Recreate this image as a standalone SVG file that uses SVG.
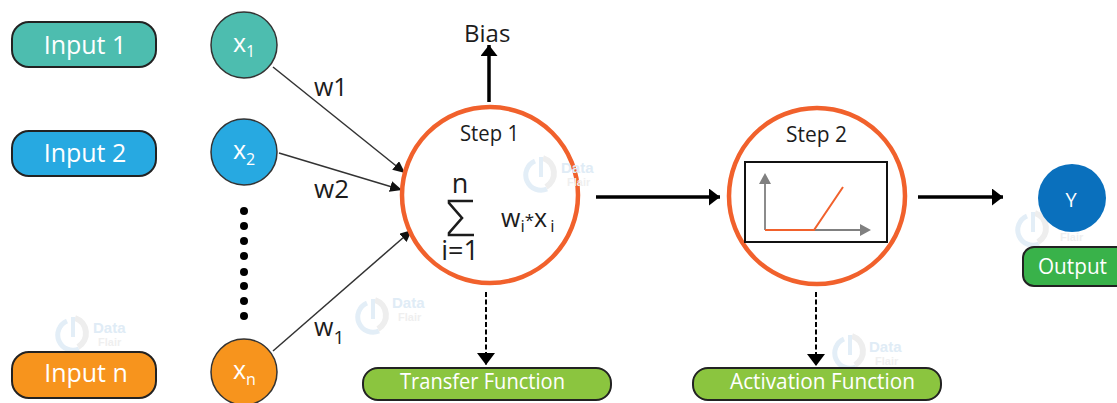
<svg xmlns="http://www.w3.org/2000/svg" width="1117" height="403" viewBox="0 0 1117 403">
<style>
text{font-family:"Open Sans","Noto Sans",sans-serif}
.pill{stroke:#222;stroke-width:2}
.w{fill:#fff}
.k{fill:#1c1c1c}
.ring{fill:#fff;stroke:#f1612c;stroke-width:4.5}
.node{stroke:#333;stroke-width:1.5}
.thin{stroke:#333;stroke-width:1.5;fill:none;marker-end:url(#a1)}
.thick{stroke:#000;stroke-width:3.5;fill:none;marker-end:url(#a2)}
.dash{stroke:#000;stroke-width:2;stroke-dasharray:5 2.5;fill:none;marker-end:url(#a3)}
text.wmt{font-family:"Liberation Sans",sans-serif;fill:#e0ecf6;font-weight:700;font-size:15px}
text.wmf{font-family:"Liberation Sans",sans-serif;fill:#efefef;font-weight:700;font-size:11px}
</style>
<defs>
<marker id="a1" markerUnits="userSpaceOnUse" markerWidth="13" markerHeight="12" refX="12" refY="5.5" orient="auto"><path d="M0 0L12 5.5L0 11Z" fill="#111"/></marker>
<marker id="a2" markerUnits="userSpaceOnUse" markerWidth="13" markerHeight="18" refX="11" refY="8.5" orient="auto"><path d="M0 0L11 8.5L0 17Z" fill="#000"/></marker>
<marker id="a3" markerUnits="userSpaceOnUse" markerWidth="14" markerHeight="20" refX="12" refY="9" orient="auto"><path d="M0 0L12 9L0 18Z" fill="#000"/></marker>
<g id="wm"><path d="M-5 -14A15 15 0 1 0 7 14" fill="none" stroke="#e3eef7" stroke-width="5"/><path d="M3 -17A16 16 0 0 1 6 12" fill="none" stroke="#eeeeee" stroke-width="6"/><path d="M1 -18V2" stroke="#e3eef7" stroke-width="4"/></g>
</defs>

<g id="watermarks">
<use href="#wm" x="372" y="317"/><text class="wmt" x="392" y="308">Data</text><text class="wmf" x="398" y="321">Flair</text>
<use href="#wm" x="72" y="335"/><text class="wmt" x="93" y="333">Data</text><text class="wmf" x="98" y="346">Flair</text>
<use href="#wm" x="849" y="353"/><text class="wmt" x="869" y="352">Data</text><text class="wmf" x="875" y="365">Flair</text>
<use href="#wm" x="1032" y="230"/><text class="wmf" x="1060" y="241">Flair</text>
</g>

<g id="connectors">
<path class="thin" d="M273 67L405 173"/>
<path class="thin" d="M279 153L402 190"/>
<path class="thin" d="M273 351L412 230"/>
<path class="thick" d="M489 102V45"/>
<path class="thick" d="M596 197H720"/>
<path class="thick" d="M918 197H1003"/>
<path class="dash" d="M486 292V365"/>
<path class="dash" d="M816 292V366"/>
</g>

<g id="input1"><rect class="pill" x="12" y="22" width="144" height="45" rx="17" fill="#4dbdaf"/><text class="w" x="85" y="54" font-size="25" text-anchor="middle">Input 1</text></g>
<g id="input2"><rect class="pill" x="12" y="131" width="144" height="45" rx="17" fill="#27a9e1"/><text class="w" x="85" y="162" font-size="25" text-anchor="middle">Input 2</text></g>
<g id="inputn"><rect class="pill" x="12" y="352" width="144" height="46" rx="17" fill="#f7941d"/><text class="w" x="86" y="382" font-size="25" text-anchor="middle">Input n</text></g>

<g id="x1"><circle class="node" cx="244" cy="45" r="33" fill="#4dbdaf"/><text class="w" x="233" y="52" font-size="25">x<tspan font-size="16" dy="5">1</tspan></text></g>
<g id="x2"><circle class="node" cx="244" cy="152" r="33" fill="#27a9e1"/><text class="w" x="233" y="159" font-size="25">x<tspan font-size="16" dy="6">2</tspan></text></g>
<g id="xn"><circle class="node" cx="244" cy="372" r="33" fill="#f7941d"/><text class="w" x="233" y="379" font-size="25">x<tspan font-size="16" dy="6">n</tspan></text></g>

<g id="dots" fill="#000">
<circle cx="244" cy="211" r="4"/><circle cx="244" cy="226" r="4"/><circle cx="244" cy="241" r="4"/><circle cx="244" cy="256" r="4"/><circle cx="244" cy="272" r="4"/><circle cx="244" cy="286" r="4"/><circle cx="244" cy="301" r="4"/><circle cx="244" cy="316" r="4"/>
</g>

<g id="labels" class="k">
<text x="314" y="96" font-size="25">w1</text>
<text x="314" y="198" font-size="26">w2</text>
<text x="314" y="336" font-size="25">w<tspan font-size="19" dy="8">1</tspan></text>
<text x="464" y="42" font-size="24">Bias</text>
</g>

<g id="step1">
<circle class="ring" cx="490" cy="195" r="88"/>
<use href="#wm" x="540" y="175"/><text class="wmt" x="561" y="173">Data</text><text class="wmf" x="567" y="186">Flair</text>
<text class="k" x="460" y="141" font-size="21" textLength="59" lengthAdjust="spacingAndGlyphs">Step 1</text>
<text class="k" x="460" y="193" font-size="27" text-anchor="middle">n</text>
<path d="M473 201H449V203L462 218L449 233V235H474" fill="none" stroke="#1c1c1c" stroke-width="2.6"/>
<text class="k" x="460" y="260" font-size="27" text-anchor="middle">i=1</text>
<text class="k" x="501" y="227" font-size="25">w<tspan font-size="17" dy="5">i</tspan><tspan dy="-6" font-size="17">*</tspan><tspan font-size="25" dy="1">x</tspan><tspan font-size="17" dy="5" dx="3">i</tspan></text>
</g>

<g id="step2">
<circle class="ring" cx="817" cy="196" r="88"/>
<text class="k" x="786" y="142" font-size="21" textLength="61" lengthAdjust="spacingAndGlyphs">Step 2</text>
<rect x="745" y="162" width="142" height="80" fill="#fff" stroke="#111" stroke-width="2"/>
<path d="M765 230V178M765 230H862" fill="none" stroke="#808080" stroke-width="1.8"/>
<path d="M759 184L765 173L771 184ZM860 224L871 230L860 236Z" fill="#808080"/>
<path d="M765 230H814L843 187" fill="none" stroke="#f1612c" stroke-width="2"/>
</g>

<g id="y"><circle cx="1072" cy="198" r="34" fill="#0a70bd"/><text class="w" x="1071" y="207" font-size="20" text-anchor="middle">Y</text></g>
<g id="output"><rect class="pill" x="1023" y="247" width="110" height="39" rx="11" fill="#39b24a"/><text class="w" x="1038" y="274" font-size="21" textLength="69" lengthAdjust="spacingAndGlyphs">Output</text></g>
<g id="transfer"><rect class="pill" x="363" y="368" width="248" height="32" rx="15" fill="#8bc53f"/><text class="w" x="400" y="389" font-size="21" textLength="165" lengthAdjust="spacingAndGlyphs">Transfer Function</text></g>
<g id="activation"><rect class="pill" x="693" y="368" width="248" height="32" rx="15" fill="#8bc53f"/><text class="w" x="730" y="389" font-size="21" textLength="185" lengthAdjust="spacingAndGlyphs">Activation Function</text></g>
</svg>
